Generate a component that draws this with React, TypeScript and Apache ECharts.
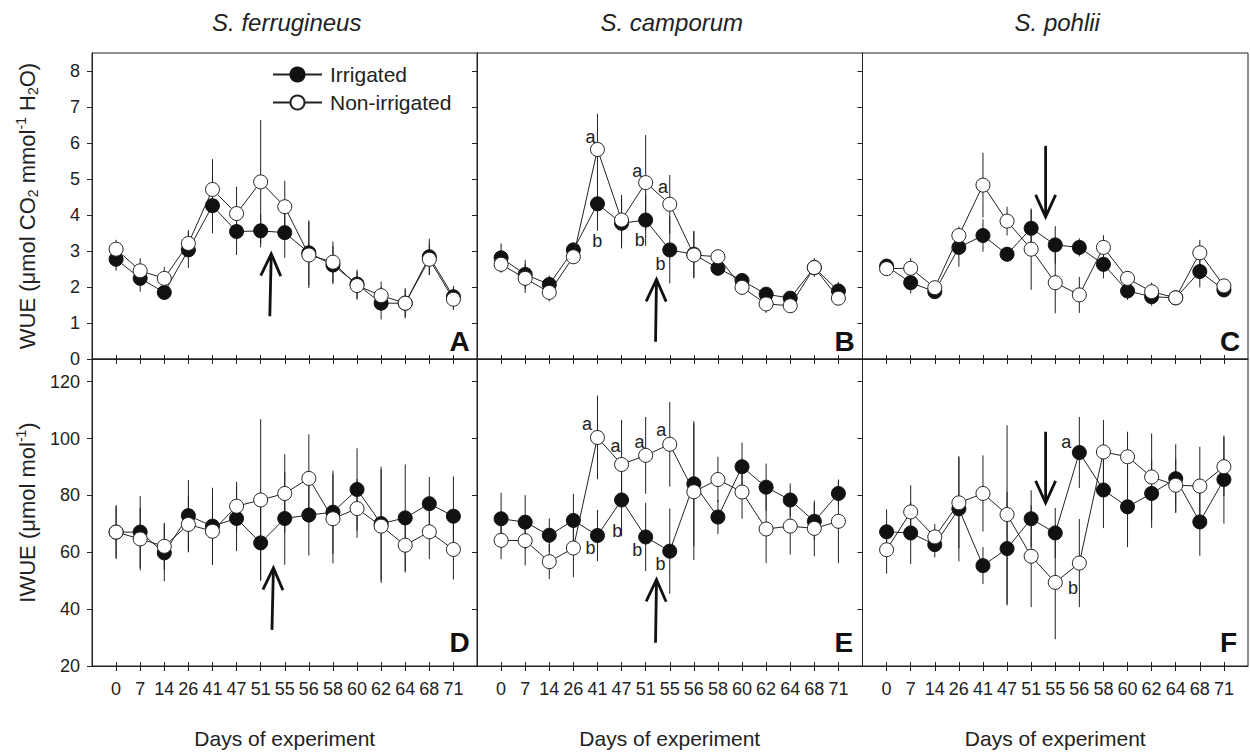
import React, { useEffect, useRef } from 'react';
import * as echarts from 'echarts';

const FONT = '"Liberation Sans", Arial, Helvetica, sans-serif';
const INK = '#222';

// Days of experiment (category labels, evenly spaced)
const days = ['0', '7', '14', '26', '41', '47', '51', '55', '56', '58', '60', '62', '64', '68', '71'];
const species = ['S. ferrugineus', 'S. camporum', 'S. pohlii'];
const panelLetters = ['A', 'B', 'C', 'D', 'E', 'F'];
const wueTicks = [0, 1, 2, 3, 4, 5, 6, 7, 8];
const iwueTicks = [20, 40, 60, 80, 100, 120];

// WUE (top row)
const wueIrrA = [2.77, 2.24, 1.85, 3.03, 4.26, 3.54, 3.56, 3.51, 2.95, 2.61, 2.08, 1.55, 1.55, 2.84, 1.73];
const wueIrrAErr = [0.32, 0.37, 0.2, 0.5, 0.77, 0.65, 0.46, 0.7, 0.9, 0.53, 0.4, 0.45, 0.42, 0.5, 0.3];
const wueNonA = [3.05, 2.45, 2.24, 3.21, 4.71, 4.04, 4.92, 4.23, 2.89, 2.69, 2.04, 1.76, 1.55, 2.77, 1.66];
const wueNonAErr = [0.26, 0.35, 0.32, 0.37, 0.84, 0.75, 1.72, 0.72, 0.92, 0.57, 0.39, 0.39, 0.37, 0.44, 0.3];

const wueIrrB = [2.81, 2.35, 2.07, 3.03, 4.31, 3.77, 3.86, 3.03, 2.91, 2.52, 2.18, 1.8, 1.69, 2.54, 1.89];
const wueIrrBErr = [0.4, 0.4, 0.25, 0.2, 0.75, 0.7, 0.72, 0.93, 0.65, 0.2, 0.15, 0.2, 0.15, 0.25, 0.25];
const wueNonB = [2.63, 2.24, 1.85, 2.84, 5.82, 3.86, 4.9, 4.3, 2.89, 2.84, 1.99, 1.53, 1.48, 2.54, 1.69];
const wueNonBErr = [0.23, 0.4, 0.25, 0.2, 0.99, 0.7, 1.32, 0.81, 0.65, 0.2, 0.15, 0.25, 0.15, 0.25, 0.2];

const wueIrrC = [2.58, 2.12, 1.87, 3.1, 3.43, 2.91, 3.63, 3.17, 3.1, 2.63, 1.89, 1.73, 1.7, 2.43, 1.92];
const wueIrrCErr = [0.2, 0.3, 0.15, 0.54, 0.45, 0.2, 0.51, 0.52, 0.25, 0.39, 0.25, 0.25, 0.1, 0.44, 0.2];
const wueNonC = [2.51, 2.52, 1.98, 3.43, 4.83, 3.83, 3.05, 2.12, 1.78, 3.1, 2.24, 1.87, 1.7, 2.95, 2.03];
const wueNonCErr = [0.2, 0.28, 0.15, 0.25, 0.9, 0.4, 1.13, 0.85, 0.5, 0.34, 0.2, 0.25, 0.1, 0.36, 0.2];

// IWUE (bottom row)
const iwueIrrD = [67.1, 67.1, 59.8, 72.9, 69.2, 71.9, 63.3, 71.9, 73.1, 74.1, 82.1, 70.1, 72.1, 77.1, 72.7];
const iwueIrrDErr = [9.5, 12.7, 10, 12.5, 13.5, 11.5, 13.2, 16.3, 14.2, 14.6, 14.5, 20, 18.8, 9.4, 14];
const iwueNonD = [67.1, 64.7, 62.1, 69.8, 67.4, 76.2, 78.4, 80.7, 86, 71.8, 75.4, 69.2, 62.5, 67.2, 61];
const iwueNonDErr = [9, 11, 8.3, 9.8, 11.8, 8.6, 28.4, 13.8, 15.5, 15.7, 10.3, 20, 9.6, 9.6, 10.6];

const iwueIrrE = [71.8, 70.6, 66, 71.2, 65.9, 78.4, 65.4, 60.4, 84.1, 72.4, 90.1, 82.9, 78.4, 70.9, 80.7];
const iwueIrrEErr = [9.1, 9.5, 5.9, 9.4, 9, 12.8, 12, 15, 22, 6, 8.5, 8.3, 5.8, 6.5, 4.1];
const iwueNonE = [64.2, 64.1, 56.7, 61.5, 100.4, 90.9, 94.1, 98, 81.3, 85.6, 81.2, 68.2, 69.2, 68.4, 70.9];
const iwueNonEErr = [6.6, 8.7, 6.1, 10.3, 14.7, 15.7, 13.5, 14.9, 24, 8, 9.4, 12, 10, 9.8, 14.7];

const iwueIrrF = [67.2, 66.8, 62.7, 75.3, 55.3, 61.3, 71.8, 66.8, 95.1, 81.9, 76, 80.7, 85.9, 70.7, 85.6];
const iwueIrrFErr = [7.9, 10.9, 4.5, 18.5, 6.5, 20, 10, 8.8, 12.5, 13.4, 14.2, 12.1, 12.1, 11.9, 15.5];
const iwueNonF = [60.9, 74.2, 65.4, 77.4, 80.7, 73.3, 58.6, 49.4, 56.2, 95.3, 93.6, 86.5, 83.6, 83.3, 90.1];
const iwueNonFErr = [8.4, 9.4, 4.5, 16, 13.4, 31.4, 17.9, 20, 15.5, 11.2, 8.8, 15.3, 9.2, 13.8, 10.3];

// Significance letters: [xIndexPosition, value, letter]
const lettersB = [[3.71, 6.16, 'a'], [3.99, 3.29, 'b'], [5.65, 5.23, 'a'], [5.75, 3.31, 'b'], [6.72, 4.79, 'a'], [6.62, 2.63, 'b']];
const lettersE = [[3.57, 105.1, 'a'], [3.71, 61.5, 'b'], [4.75, 97.4, 'a'], [4.82, 67.4, 'b'], [5.74, 98.8, 'a'], [5.65, 60.7, 'b'], [6.65, 103, 'a'], [6.62, 55.9, 'b']];
const lettersF = [[7.46, 98.8, 'a'], [7.74, 47.4, 'b']];

// Arrows: [xFrom, yFrom, xTo, yTo] in data units
const arrowA = [6.38, 1.19, 6.44, 2.92];
const arrowB = [6.41, 0.48, 6.45, 2.21];
const arrowC = [6.6, 5.92, 6.6, 3.95];
const arrowD = [6.47, 32.7, 6.53, 54.5];
const arrowE = [6.41, 28.2, 6.45, 50.4];
const arrowF = [6.6, 102.4, 6.6, 77.4];

const panels = [
  { irr: wueIrrA, irrErr: wueIrrAErr, non: wueNonA, nonErr: wueNonAErr, letters: [], arrow: arrowA },
  { irr: wueIrrB, irrErr: wueIrrBErr, non: wueNonB, nonErr: wueNonBErr, letters: lettersB, arrow: arrowB },
  { irr: wueIrrC, irrErr: wueIrrCErr, non: wueNonC, nonErr: wueNonCErr, letters: [], arrow: arrowC },
  { irr: iwueIrrD, irrErr: iwueIrrDErr, non: iwueNonD, nonErr: iwueNonDErr, letters: [], arrow: arrowD },
  { irr: iwueIrrE, irrErr: iwueIrrEErr, non: iwueNonE, nonErr: iwueNonEErr, letters: lettersE, arrow: arrowE },
  { irr: iwueIrrF, irrErr: iwueIrrFErr, non: iwueNonF, nonErr: iwueNonFErr, letters: lettersF, arrow: arrowF },
];

const COL_LEFT = [92, 477, 862.5];
const COL_W = 385.5;
const ROW_TOP = [53, 359];
const ROW_H = [306, 307];

function buildOption() {
  const idx = days.map((_, i) => i);
  const grid: any[] = [];
  const xAxis: any[] = [];
  const yAxis: any[] = [];
  const series: any[] = [];
  const graphic: any[] = [];

  panels.forEach((p, g) => {
    const row = Math.floor(g / 3);
    const col = g % 3;
    grid.push({
      left: COL_LEFT[col], top: ROW_TOP[row], width: COL_W, height: ROW_H[row],
      show: true, borderColor: INK, borderWidth: 1, backgroundColor: 'transparent',
    });
    xAxis.push({
      type: 'value', gridIndex: g, min: -1, max: 15, interval: 1,
      axisLine: { show: true, onZero: false, lineStyle: { color: INK, width: 1 } },
      axisTick: { show: true, inside: false, length: 5, customValues: idx, lineStyle: { color: INK } },
      axisLabel: {
        show: row === 1, customValues: idx, margin: 14, fontSize: 18, fontFamily: FONT, color: INK,
        formatter: (v: number) => (days[v] !== undefined ? days[v] : ''),
      },
      splitLine: { show: false },
    });
    xAxis.push({
      type: 'value', gridIndex: g, min: -1, max: 15, interval: 1, position: 'bottom',
      axisLine: { show: false, onZero: false },
      axisTick: { show: true, inside: true, length: 4, customValues: idx, lineStyle: { color: INK } },
      axisLabel: { show: false },
      splitLine: { show: false },
    });
    const isTop = row === 0;
    yAxis.push({
      type: 'value', gridIndex: g,
      min: isTop ? 0 : 20, max: isTop ? 8.5 : 128, interval: isTop ? 1 : 20,
      axisLine: { show: true, onZero: false, lineStyle: { color: INK, width: 1 } },
      axisTick: { show: true, inside: false, length: 5, customValues: isTop ? wueTicks : iwueTicks, lineStyle: { color: INK } },
      axisLabel: {
        show: col === 0, customValues: isTop ? wueTicks : iwueTicks, margin: 12, fontSize: 18,
        fontFamily: FONT, color: INK,
        formatter: (v: number) => (Number.isInteger(v) ? String(v) : ''),
      },
      splitLine: { show: false },
      name: col === 0
        ? (isTop ? 'WUE (μmol CO{sub|2} mmol{sup|-1} H{sub|2}O)' : 'IWUE (μmol mol{sup|-1})')
        : '',
      nameLocation: 'middle', nameRotate: 90, nameGap: 52,
      nameTextStyle: {
        fontSize: 22, fontFamily: FONT, color: INK, lineHeight: 26,
        rich: {
          sub: { fontSize: 14, fontFamily: FONT, color: INK, verticalAlign: 'bottom', lineHeight: 14 },
          sup: { fontSize: 14, fontFamily: FONT, color: INK, verticalAlign: 'top', lineHeight: 14 },
        },
      },
    });

    const xi = g * 2;
    const errItem = (params: any, api: any) => {
      const x = api.value(0);
      const y = api.value(1);
      const e = api.value(2);
      const a = api.coord([x, y - e]);
      const b = api.coord([x, y + e]);
      return {
        type: 'line',
        shape: { x1: a[0], y1: a[1], x2: b[0], y2: b[1] },
        style: { stroke: INK, lineWidth: 1 },
      };
    };
    series.push({
      type: 'custom', xAxisIndex: xi, yAxisIndex: g, z: 1, silent: true,
      data: p.irr.map((v, i) => [i, v, p.irrErr[i]]),
      encode: { x: 0, y: 1 }, renderItem: errItem,
    });
    series.push({
      type: 'custom', xAxisIndex: xi, yAxisIndex: g, z: 1, silent: true,
      data: p.non.map((v, i) => [i, v, p.nonErr[i]]),
      encode: { x: 0, y: 1 }, renderItem: errItem,
    });
    series.push({
      name: 'Irrigated', type: 'line', xAxisIndex: xi, yAxisIndex: g, z: 3,
      data: p.irr.map((v, i) => [i, v]),
      symbol: 'circle', symbolSize: 14,
      lineStyle: { color: INK, width: 1 },
      itemStyle: { color: '#111', borderColor: '#111', borderWidth: 1 },
    });
    series.push({
      name: 'Non-irrigated', type: 'line', xAxisIndex: xi, yAxisIndex: g, z: 4,
      data: p.non.map((v, i) => [i, v]),
      symbol: 'circle', symbolSize: 14,
      lineStyle: { color: INK, width: 1 },
      itemStyle: { color: '#fff', borderColor: INK, borderWidth: 1 },
    });
    // arrow
    series.push({
      type: 'custom', xAxisIndex: xi, yAxisIndex: g, z: 5, silent: true,
      data: [p.arrow],
      encode: { x: [0, 2], y: [1, 3] },
      renderItem: (params: any, api: any) => {
        const a = api.coord([api.value(0), api.value(1)]);
        const b = api.coord([api.value(2), api.value(3)]);
        const dx = b[0] - a[0];
        const dy = b[1] - a[1];
        const len = Math.sqrt(dx * dx + dy * dy) || 1;
        const ux = dx / len;
        const uy = dy / len;
        const back = 22;
        const side = 10;
        const bx = b[0] - ux * back;
        const by = b[1] - uy * back;
        return {
          type: 'group',
          children: [
            { type: 'line', shape: { x1: a[0], y1: a[1], x2: b[0], y2: b[1] }, style: { stroke: '#111', lineWidth: 2.8 } },
            {
              type: 'polyline',
              shape: { points: [[bx - uy * side, by + ux * side], [b[0], b[1]], [bx + uy * side, by - ux * side]] },
              style: { stroke: '#111', lineWidth: 2.8, fill: 'none' },
            },
          ],
        };
      },
    });
    if (p.letters.length) {
      series.push({
        type: 'custom', xAxisIndex: xi, yAxisIndex: g, z: 6, silent: true,
        data: p.letters,
        encode: { x: 0, y: 1 },
        renderItem: (params: any, api: any) => {
          const pt = api.coord([api.value(0), api.value(1)]);
          const d = p.letters[params.dataIndex] as any[];
          return {
            type: 'text', x: pt[0], y: pt[1],
            style: {
              text: d[2], font: `18px ${FONT}`, fill: INK,
              textAlign: 'center', textVerticalAlign: 'middle',
            },
          };
        },
      });
    }

    // panel letter
    graphic.push({
      type: 'text',
      left: COL_LEFT[col] + COL_W - 8 - 20,
      top: ROW_TOP[row] + ROW_H[row] - (row === 0 ? 11 : 17) - 21,
      style: { text: panelLetters[g], font: `bold 28px ${FONT}`, fill: '#111' },
    });
  });

  species.forEach((s, c) => {
    graphic.push({
      type: 'text', x: COL_LEFT[c] + COL_W / 2 + 2, y: 22,
      style: { text: s, font: `italic 24px ${FONT}`, fill: INK, textAlign: 'center', textVerticalAlign: 'middle' },
    });
    graphic.push({
      type: 'text', x: COL_LEFT[c] + COL_W / 2, y: 738,
      style: { text: 'Days of experiment', font: `21px ${FONT}`, fill: INK, textAlign: 'center', textVerticalAlign: 'middle' },
    });
  });

  return {
    animation: false,
    backgroundColor: '#fff',
    textStyle: { fontFamily: FONT },
    grid, xAxis, yAxis, series, graphic,
    legend: {
      data: ['Irrigated', 'Non-irrigated'],
      orient: 'vertical', left: 267, top: 59,
      itemWidth: 49, itemHeight: 17.5, itemGap: 7,
      selectedMode: false,
      textStyle: { fontSize: 21, fontFamily: FONT, color: INK, padding: [0, 0, 0, 3] },
    },
  };
}

export default function App() {
  const ref = useRef<HTMLDivElement>(null);
  useEffect(() => {
    document.body.style.margin = '0';
    const chart = echarts.init(ref.current!, undefined, { renderer: 'svg' });
    chart.setOption(buildOption() as any);
    return () => chart.dispose();
  }, []);
  return <div ref={ref} style={{ width: 1250, height: 754 }} />;
}
